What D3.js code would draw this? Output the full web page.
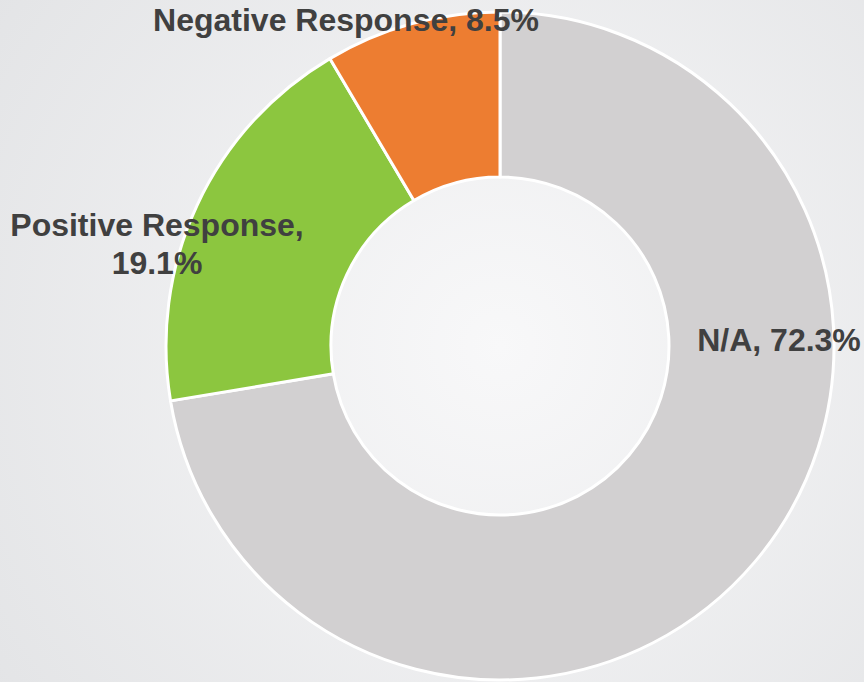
<!DOCTYPE html>
<html>
<head>
<meta charset="utf-8">
<script src="https://cdn.jsdelivr.net/npm/d3@7"></script>
<style>
  html, body { margin: 0; padding: 0; }
  body { width: 864px; height: 682px; overflow: hidden; }
</style>
</head>
<body>
<div id="chart"></div>
<script>
const categories = ["N/A", "Positive Response", "Negative Response"];
const values = [72.3, 19.1, 8.5];
const colors = ["#d2d0d1", "#8cc63f", "#ed7d31"];

const width = 864;
const height = 682;
const cx = 500, cy = 346;
const outerR = 334, innerR = 169;

const svg = d3.select("#chart")
	.append("svg")
	.attr("width", width)
	.attr("height", height);

const defs = svg.append("defs");
const grad = defs.append("radialGradient")
	.attr("id", "bg")
	.attr("gradientUnits", "userSpaceOnUse")
	.attr("cx", cx).attr("cy", cy).attr("r", 620);
grad.append("stop").attr("offset", "0%").attr("stop-color", "#f8f8f9");
grad.append("stop").attr("offset", "100%").attr("stop-color", "#e3e4e6");

svg.append("rect")
	.attr("width", width)
	.attr("height", height)
	.attr("fill", "url(#bg)");

const data = categories.map(function(c, i) {
	return { name: c, value: values[i], color: colors[i] };
});

const pie = d3.pie()
	.sort(null)
	.value(function(d) { return d.value; });

const arc = d3.arc()
	.innerRadius(innerR)
	.outerRadius(outerR);

const g = svg.append("g")
	.attr("transform", "translate(" + cx + "," + cy + ")");

g.selectAll("path")
	.data(pie(data))
	.enter()
	.append("path")
	.attr("d", arc)
	.attr("fill", function(d) { return d.data.color; })
	.attr("stroke", "#ffffff")
	.attr("stroke-width", 3)
	.attr("stroke-linejoin", "round");

// label placement (layout only)
const labelPos = [
	{ x: 779, y: 351, lines: ["N/A, 72.3%"] },
	{ x: 157, y: 236, lines: ["Positive Response,", "19.1%"] },
	{ x: 346, y: 31, lines: ["Negative Response, 8.5%"] }
];

labelPos.forEach(function(p) {
	const t = svg.append("text")
		.attr("x", p.x)
		.attr("y", p.y)
		.attr("text-anchor", "middle")
		.attr("font-family", "Liberation Sans, Arial, sans-serif")
		.attr("font-weight", "bold")
		.attr("font-size", 32)
		.attr("fill", "#404040");
	p.lines.forEach(function(line, j) {
		t.append("tspan")
			.attr("x", p.x)
			.attr("dy", j === 0 ? 0 : 38)
			.text(line);
	});
});
</script>
</body>
</html>
